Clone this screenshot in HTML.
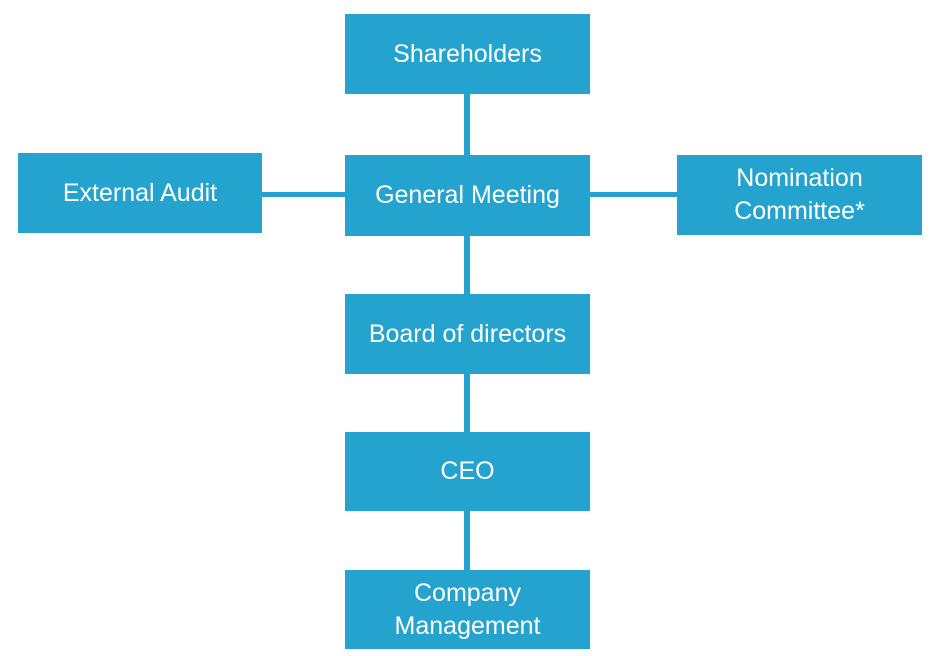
<!DOCTYPE html>
<html><head><style>
body{margin:0;width:937px;height:656px;background:#fff;position:relative;overflow:hidden;font-family:"Liberation Sans",sans-serif}
.b{position:absolute;background:#24a3cf;color:#fff;display:flex;align-items:center;justify-content:center;text-align:center;font-size:25px;line-height:33px}
.l{position:absolute;background:#24a3cf}
</style></head><body>
<div class="l" style="left:464px;top:94px;width:6px;height:480px"></div>
<div class="l" style="left:262px;top:192px;width:416px;height:5px"></div>
<div class="b" style="left:345px;top:14px;width:245px;height:80px">Shareholders</div>
<div class="b" style="left:18px;top:153px;width:244px;height:80px">External Audit</div>
<div class="b" style="left:345px;top:155px;width:245px;height:81px">General Meeting</div>
<div class="b" style="left:677px;top:155px;width:245px;height:80px">Nomination<br>Committee*</div>
<div class="b" style="left:345px;top:294px;width:245px;height:80px">Board of directors</div>
<div class="b" style="left:345px;top:432px;width:245px;height:79px">CEO</div>
<div class="b" style="left:345px;top:570px;width:245px;height:79px">Company<br>Management</div>
</body></html>
